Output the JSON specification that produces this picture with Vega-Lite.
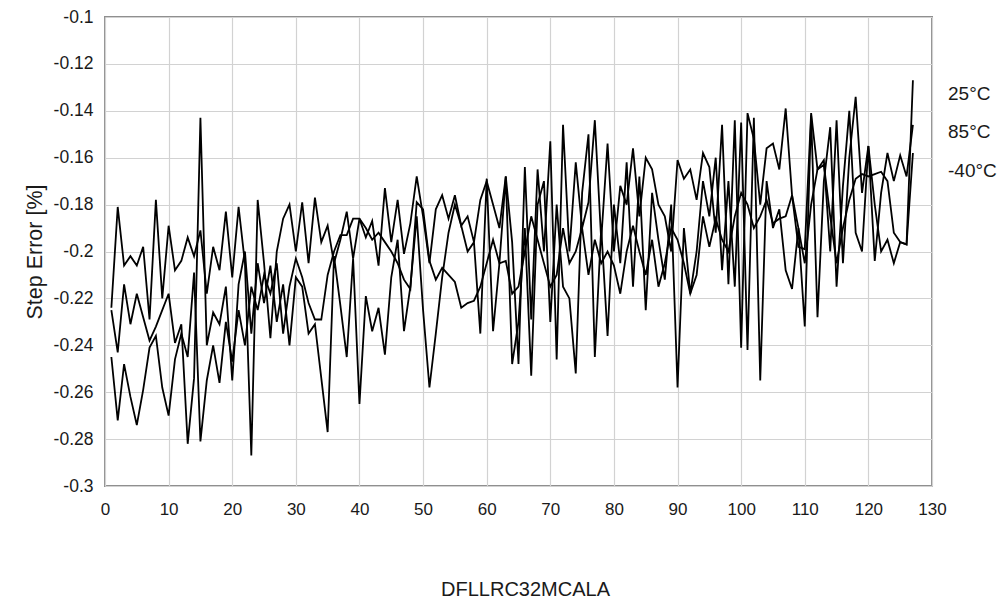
{
  "$schema": "https://vega.github.io/schema/vega-lite/v6.json",
  "width": 827,
  "height": 469,
  "autosize": {"type": "none"},
  "padding": {"left": 105, "top": 17, "right": 68, "bottom": 115},
  "background": "white",
  "config": {
    "font": "Liberation Sans, Arial, sans-serif",
    "view": {"stroke": "#8f8f8f", "strokeWidth": 2},
    "axis": {"labelColor": "#1a1a1a", "titleColor": "#1a1a1a", "gridColor": "#d2d2d2", "gridWidth": 1.2, "domain": false, "ticks": false, "tickSize": 0}
  },
  "data": {
    "values": [
      {"x":1,"a":-0.224,"b":-0.225,"c":-0.245},
      {"x":2,"a":-0.181,"b":-0.243,"c":-0.272},
      {"x":3,"a":-0.206,"b":-0.214,"c":-0.248},
      {"x":4,"a":-0.202,"b":-0.231,"c":-0.262},
      {"x":5,"a":-0.206,"b":-0.218,"c":-0.274},
      {"x":6,"a":-0.198,"b":-0.228,"c":-0.259},
      {"x":7,"a":-0.229,"b":-0.238,"c":-0.241},
      {"x":8,"a":-0.178,"b":-0.232,"c":-0.236},
      {"x":9,"a":-0.220,"b":-0.225,"c":-0.258},
      {"x":10,"a":-0.189,"b":-0.218,"c":-0.270},
      {"x":11,"a":-0.208,"b":-0.239,"c":-0.246},
      {"x":12,"a":-0.204,"b":-0.231,"c":-0.235},
      {"x":13,"a":-0.194,"b":-0.282,"c":-0.245},
      {"x":14,"a":-0.202,"b":-0.254,"c":-0.209},
      {"x":15,"a":-0.191,"b":-0.143,"c":-0.281},
      {"x":16,"a":-0.218,"b":-0.240,"c":-0.255},
      {"x":17,"a":-0.198,"b":-0.226,"c":-0.240},
      {"x":18,"a":-0.208,"b":-0.231,"c":-0.256},
      {"x":19,"a":-0.183,"b":-0.215,"c":-0.230},
      {"x":20,"a":-0.211,"b":-0.255,"c":-0.247},
      {"x":21,"a":-0.181,"b":-0.214,"c":-0.225},
      {"x":22,"a":-0.205,"b":-0.200,"c":-0.240},
      {"x":23,"a":-0.287,"b":-0.235,"c":-0.215},
      {"x":24,"a":-0.178,"b":-0.205,"c":-0.225},
      {"x":25,"a":-0.205,"b":-0.222,"c":-0.210},
      {"x":26,"a":-0.237,"b":-0.206,"c":-0.218},
      {"x":27,"a":-0.200,"b":-0.230,"c":-0.205},
      {"x":28,"a":-0.186,"b":-0.214,"c":-0.235},
      {"x":29,"a":-0.180,"b":-0.240,"c":-0.215},
      {"x":30,"a":-0.200,"b":-0.211,"c":-0.203},
      {"x":31,"a":-0.179,"b":-0.215,"c":-0.211},
      {"x":32,"a":-0.205,"b":-0.235,"c":-0.222},
      {"x":33,"a":-0.177,"b":-0.231,"c":-0.229},
      {"x":34,"a":-0.196,"b":-0.254,"c":-0.229},
      {"x":35,"a":-0.189,"b":-0.277,"c":-0.210},
      {"x":36,"a":-0.205,"b":-0.202,"c":-0.200},
      {"x":37,"a":-0.195,"b":-0.223,"c":-0.193},
      {"x":38,"a":-0.183,"b":-0.245,"c":-0.193},
      {"x":39,"a":-0.203,"b":-0.203,"c":-0.186},
      {"x":40,"a":-0.186,"b":-0.265,"c":-0.186},
      {"x":41,"a":-0.194,"b":-0.219,"c":-0.190},
      {"x":42,"a":-0.187,"b":-0.234,"c":-0.195},
      {"x":43,"a":-0.206,"b":-0.224,"c":-0.192},
      {"x":44,"a":-0.173,"b":-0.244,"c":-0.196},
      {"x":45,"a":-0.196,"b":-0.211,"c":-0.200},
      {"x":46,"a":-0.178,"b":-0.195,"c":-0.205},
      {"x":47,"a":-0.201,"b":-0.234,"c":-0.212},
      {"x":48,"a":-0.188,"b":-0.215,"c":-0.216},
      {"x":49,"a":-0.168,"b":-0.185,"c":-0.179},
      {"x":50,"a":-0.185,"b":-0.225,"c":-0.182},
      {"x":51,"a":-0.205,"b":-0.258,"c":-0.204},
      {"x":52,"a":-0.182,"b":-0.235,"c":-0.212},
      {"x":53,"a":-0.176,"b":-0.211,"c":-0.207},
      {"x":54,"a":-0.186,"b":-0.192,"c":-0.210},
      {"x":55,"a":-0.176,"b":-0.180,"c":-0.213},
      {"x":56,"a":-0.189,"b":-0.189,"c":-0.224},
      {"x":57,"a":-0.185,"b":-0.200,"c":-0.222},
      {"x":58,"a":-0.196,"b":-0.196,"c":-0.221},
      {"x":59,"a":-0.178,"b":-0.235,"c":-0.215},
      {"x":60,"a":-0.170,"b":-0.169,"c":-0.205},
      {"x":61,"a":-0.180,"b":-0.234,"c":-0.195},
      {"x":62,"a":-0.190,"b":-0.205,"c":-0.205},
      {"x":63,"a":-0.168,"b":-0.168,"c":-0.204},
      {"x":64,"a":-0.196,"b":-0.248,"c":-0.218},
      {"x":65,"a":-0.248,"b":-0.230,"c":-0.215},
      {"x":66,"a":-0.164,"b":-0.190,"c":-0.200},
      {"x":67,"a":-0.229,"b":-0.253,"c":-0.185},
      {"x":68,"a":-0.165,"b":-0.180,"c":-0.195},
      {"x":69,"a":-0.200,"b":-0.170,"c":-0.205},
      {"x":70,"a":-0.153,"b":-0.230,"c":-0.215},
      {"x":71,"a":-0.246,"b":-0.180,"c":-0.210},
      {"x":72,"a":-0.146,"b":-0.215,"c":-0.190},
      {"x":73,"a":-0.200,"b":-0.220,"c":-0.205},
      {"x":74,"a":-0.162,"b":-0.252,"c":-0.200},
      {"x":75,"a":-0.190,"b":-0.175,"c":-0.190},
      {"x":76,"a":-0.179,"b":-0.150,"c":-0.210},
      {"x":77,"a":-0.144,"b":-0.245,"c":-0.195},
      {"x":78,"a":-0.195,"b":-0.190,"c":-0.205},
      {"x":79,"a":-0.154,"b":-0.236,"c":-0.200},
      {"x":80,"a":-0.200,"b":-0.180,"c":-0.206},
      {"x":81,"a":-0.172,"b":-0.205,"c":-0.218},
      {"x":82,"a":-0.180,"b":-0.162,"c":-0.200},
      {"x":83,"a":-0.156,"b":-0.215,"c":-0.189},
      {"x":84,"a":-0.185,"b":-0.168,"c":-0.200},
      {"x":85,"a":-0.160,"b":-0.225,"c":-0.210},
      {"x":86,"a":-0.165,"b":-0.175,"c":-0.195},
      {"x":87,"a":-0.180,"b":-0.195,"c":-0.215},
      {"x":88,"a":-0.185,"b":-0.212,"c":-0.205},
      {"x":89,"a":-0.200,"b":-0.180,"c":-0.190},
      {"x":90,"a":-0.161,"b":-0.258,"c":-0.195},
      {"x":91,"a":-0.169,"b":-0.190,"c":-0.205},
      {"x":92,"a":-0.165,"b":-0.218,"c":-0.218},
      {"x":93,"a":-0.178,"b":-0.200,"c":-0.210},
      {"x":94,"a":-0.158,"b":-0.170,"c":-0.185},
      {"x":95,"a":-0.164,"b":-0.185,"c":-0.198},
      {"x":96,"a":-0.192,"b":-0.160,"c":-0.186},
      {"x":97,"a":-0.146,"b":-0.208,"c":-0.195},
      {"x":98,"a":-0.214,"b":-0.170,"c":-0.200},
      {"x":99,"a":-0.144,"b":-0.215,"c":-0.185},
      {"x":100,"a":-0.241,"b":-0.145,"c":-0.175},
      {"x":101,"a":-0.141,"b":-0.242,"c":-0.180},
      {"x":102,"a":-0.152,"b":-0.143,"c":-0.190},
      {"x":103,"a":-0.180,"b":-0.255,"c":-0.185},
      {"x":104,"a":-0.156,"b":-0.170,"c":-0.178},
      {"x":105,"a":-0.154,"b":-0.190,"c":-0.188},
      {"x":106,"a":-0.165,"b":-0.182,"c":-0.186},
      {"x":107,"a":-0.139,"b":-0.208,"c":-0.185},
      {"x":108,"a":-0.176,"b":-0.216,"c":-0.176},
      {"x":109,"a":-0.198,"b":-0.190,"c":-0.190},
      {"x":110,"a":-0.199,"b":-0.232,"c":-0.205},
      {"x":111,"a":-0.141,"b":-0.142,"c":-0.180},
      {"x":112,"a":-0.165,"b":-0.228,"c":-0.165},
      {"x":113,"a":-0.161,"b":-0.170,"c":-0.163},
      {"x":114,"a":-0.200,"b":-0.147,"c":-0.185},
      {"x":115,"a":-0.144,"b":-0.215,"c":-0.205},
      {"x":116,"a":-0.205,"b":-0.172,"c":-0.190},
      {"x":117,"a":-0.160,"b":-0.140,"c":-0.178},
      {"x":118,"a":-0.134,"b":-0.192,"c":-0.169},
      {"x":119,"a":-0.175,"b":-0.200,"c":-0.167},
      {"x":120,"a":-0.155,"b":-0.155,"c":-0.168},
      {"x":121,"a":-0.180,"b":-0.204,"c":-0.167},
      {"x":122,"a":-0.200,"b":-0.175,"c":-0.166},
      {"x":123,"a":-0.195,"b":-0.158,"c":-0.170},
      {"x":124,"a":-0.205,"b":-0.170,"c":-0.192},
      {"x":125,"a":-0.196,"b":-0.159,"c":-0.196},
      {"x":126,"a":-0.197,"b":-0.168,"c":-0.197},
      {"x":127,"a":-0.127,"b":-0.146,"c":-0.158}
    ]
  },
  "transform": [
    {"fold": ["a", "b", "c"], "as": ["key", "v"]},
    {"lookup": "key", "from": {"data": {"values": [
      {"key": "a", "series": "25°C"},
      {"key": "b", "series": "85°C"},
      {"key": "c", "series": "-40°C"}
    ]}, "key": "key", "fields": ["series"]}}
  ],
  "mark": {"type": "line", "strokeWidth": 1.8, "strokeJoin": "miter", "strokeMiterLimit": 4},
  "encoding": {
    "x": {
      "field": "x", "type": "quantitative",
      "scale": {"domain": [0, 130], "nice": false, "zero": false},
      "axis": {
        "values": [0, 10, 20, 30, 40, 50, 60, 70, 80, 90, 100, 110, 120, 130],
        "labelFontSize": 17, "labelPadding": 15, "labelFlush": false,
        "title": "DFLLRC32MCALA", "titleFontSize": 20, "titleFontWeight": "normal",
        "titleX": 420, "titleY": 109, "titleBaseline": "alphabetic", "titleAnchor": "middle", "titleAlign": "center"
      }
    },
    "y": {
      "field": "v", "type": "quantitative",
      "scale": {"domain": [-0.3, -0.1], "nice": false, "zero": false},
      "axis": {
        "values": [-0.3, -0.28, -0.26, -0.24, -0.22, -0.2, -0.18, -0.16, -0.14, -0.12, -0.1],
        "labelExpr": "replace(format(datum.value, '~g'), '\u2212', '-')",
        "labelFontSize": 17.5, "labelPadding": 12, "labelFlush": false,
        "title": "Step Error [%]", "titleFontSize": 21.5, "titleFontWeight": "normal",
        "titleX": -70, "titleY": 234.5, "titleAngle": -90, "titleBaseline": "middle", "titleAlign": "center"
      }
    },
    "detail": {"field": "series"},
    "color": {
      "field": "series", "type": "nominal",
      "scale": {"domain": ["25°C", "85°C", "-40°C"], "range": ["#000000", "#000000", "#000000"]},
      "legend": {
        "orient": "none", "legendX": 824, "legendY": 67, "title": null,
        "symbolOpacity": 0, "symbolSize": 0, "symbolStrokeWidth": 0,
        "labelAlign": "left", "labelOffset": 0, "labelFontSize": 19, "labelColor": "#1a1a1a",
        "rowPadding": 18.5, "padding": 0, "labelLimit": 200
      }
    }
  }
}
